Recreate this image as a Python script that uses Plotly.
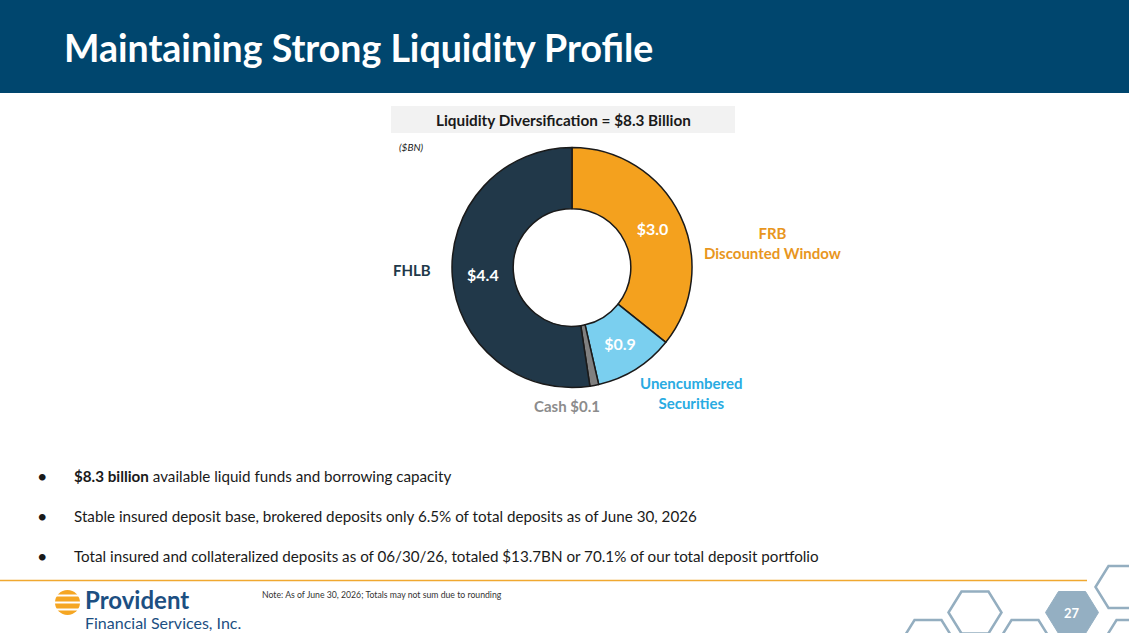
import plotly.graph_objects as go

# liquidity sources ($BN)
sources = ["FRB Discounted Window", "Unencumbered Securities", "Cash", "FHLB"]
amounts = [3.0, 0.9, 0.1, 4.4]
slice_colors = ["#F4A11E", "#7ACFEF", "#808080", "#213849"]
label_colors = ["#E8961E", "#29ABE2", "#8C8C8C", "#213849"]
show_inside = [True, True, False, True]

bullets = [
    "<b>$8.3 billion</b> available liquid funds and borrowing capacity",
    "Stable insured deposit base, brokered deposits only 6.5% of total deposits as of June 30, 2026",
    "Total insured and collateralized deposits as of 06/30/26, totaled $13.7BN or 70.1% of our total deposit portfolio",
]

W, H = 1129, 633
FONT = "Lato"


def hexagon(cx, cy, rx=26.5, ry=21, top=13.5):
    return (f"M{cx-rx},{cy} L{cx-top},{cy-ry} L{cx+top},{cy-ry} L{cx+rx},{cy} "
            f"L{cx+top},{cy+ry} L{cx-top},{cy+ry} Z")


inside_text = [f"${v:.1f}" if s else "" for v, s in zip(amounts, show_inside)]

fig = go.Figure()
# invisible pixel axes for decorations
fig.add_trace(go.Scatter(x=[0, W], y=[0, H], mode="markers",
                         marker=dict(opacity=0), hoverinfo="skip", showlegend=False))

fig.add_trace(go.Pie(
    labels=sources, values=amounts, sort=False, direction="clockwise", rotation=0,
    hole=0.49, text=inside_text, textinfo="text", textposition="inside",
    insidetextorientation="horizontal",
    textfont=dict(family=FONT, size=16, color="white", weight="bold"),
    marker=dict(colors=slice_colors, line=dict(color="#1A1A1A", width=1.5)),
    domain=dict(x=[452 / W, 692 / W], y=[1 - 388 / H, 1 - 147 / H]),
    showlegend=False,
))

shapes = [
    dict(type="rect", x0=0, x1=W, y0=0, y1=93, fillcolor="#00466E", line_width=0, layer="below"),
    dict(type="rect", x0=391, x1=735, y0=106, y1=133, fillcolor="#F2F2F2", line_width=0, layer="below"),
    dict(type="line", x0=0, x1=1087, y0=580.5, y1=580.5, line=dict(color="#F0A830", width=1.5)),
    # logo icon
    dict(type="circle", x0=55, x1=80, y0=590, y1=615, fillcolor="#F5A623", line_width=0),
]
for yy in [595.5, 602.5, 609.5]:
    shapes.append(dict(type="line", x0=53, x1=82, y0=yy, y1=yy, line=dict(color="white", width=2)))

hex_line = "#94AEC0"
for cx, cy in [(975, 612.5), (928, 641), (1025, 641), (1122, 587), (1130, 641)]:
    shapes.append(dict(type="path", path=hexagon(cx, cy), line=dict(color=hex_line, width=2.5)))
shapes.append(dict(type="path", path=hexagon(1072, 612.5), fillcolor="#94AFC2", line=dict(color="#94AFC2", width=1)))

ann = [
    dict(x=62, y=47, text="<b>Maintaining Strong Liquidity Profile</b>", xanchor="left",
         font=dict(size=37.5, color="white")),
    dict(x=563, y=119.5, text="<b>Liquidity Diversification = $8.3 Billion</b>",
         font=dict(size=15.3, color="#1A1A1A")),
    dict(x=397, y=147, text="<i>($BN)</i>", xanchor="left", font=dict(size=10, color="#1A1A1A")),
    dict(x=772, y=243, text="<b>FRB<br>Discounted Window</b>", font=dict(size=15, color=label_colors[0])),
    dict(x=691, y=393, text="<b>Unencumbered<br>Securities</b>", font=dict(size=15, color=label_colors[1])),
    dict(x=567, y=406, text=f"<b>Cash ${amounts[2]:.1f}</b>", font=dict(size=15, color=label_colors[2])),
    dict(x=412, y=270, text="<b>FHLB</b>", font=dict(size=15, color=label_colors[3])),
    dict(x=260, y=594, text="Note: As of June 30, 2026; Totals may not sum due to rounding", xanchor="left",
         font=dict(size=8.7, color="#333333")),
    dict(x=83, y=599, text="<b>Provident</b>", xanchor="left", font=dict(size=24, color="#1C4F82")),
    dict(x=83, y=622, text="Financial Services, Inc.", xanchor="left", font=dict(size=16, color="#1C4F82")),
    dict(x=1072, y=612.5, text="<b>27</b>", font=dict(size=13, color="white")),
]
for i, b in enumerate(bullets):
    yy = 476 + 40 * i
    ann.append(dict(x=42, y=yy, text="•", font=dict(size=18, color="#1A1A1A")))
    ann.append(dict(x=72, y=yy, text=b, xanchor="left", font=dict(size=15.2, color="#1A1A1A")))
for a in ann:
    a.update(xref="x", yref="y", showarrow=False)
    a.setdefault("xanchor", "center")
    a["yanchor"] = "middle"

fig.update_layout(
    width=W, height=H, autosize=False,
    margin=dict(l=0, r=0, t=0, b=0),
    paper_bgcolor="white", plot_bgcolor="white",
    font=dict(family=FONT),
    xaxis=dict(range=[0, W], visible=False, fixedrange=True),
    yaxis=dict(range=[H, 0], visible=False, fixedrange=True),
    shapes=shapes, annotations=ann,
)

fig.write_html("out.html", config={"displayModeBar": False},
               post_script="document.body.style.margin='0';document.body.style.overflow='hidden';")
